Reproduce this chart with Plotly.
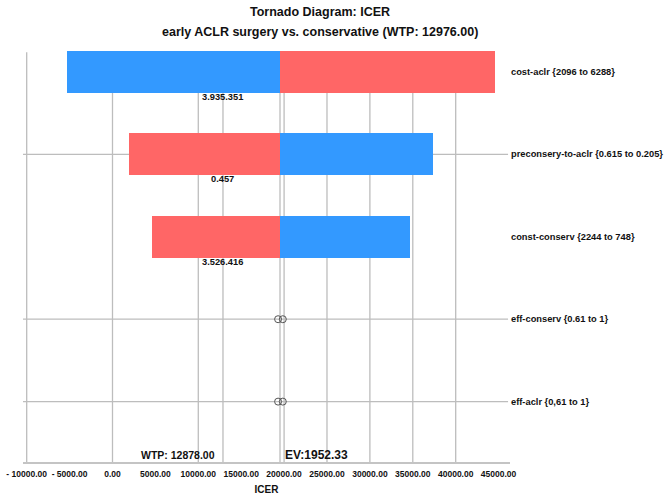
import plotly.graph_objects as go

# ---- data ----
params = [
    "cost-aclr {2096 to 6288}",
    "preconsery-to-aclr {0.615 to 0.205}",
    "const-conserv {2244 to 748}",
    "eff-conserv {0.61 to 1}",
    "eff-aclr {0,61 to 1}",
]
low_end = [-5360, 1900, 4550, 19300, 19300]
high_end = [44560, 37300, 34730, 19850, 19850]
low_side_is_blue = [True, False, False, False, False]
bar_labels = ["3.935.351", "0.457", "3.526.416", "", ""]
ev = 19523.33
wtp = 12878.0
ev_text = "EV:1952.33"
wtp_text = "WTP: 12878.00"
title_1 = "Tornado Diagram: ICER"
title_2 = "early ACLR surgery vs. conservative (WTP: 12976.00)"
tick_vals = [-10000, -5000, 0, 5000, 10000, 15000, 20000, 25000, 30000, 35000, 40000, 45000]
tick_text = ["- 10000.00", "- 5000.00", "0.00", "5000.00", "10000.00", "15000.00",
             "20000.00", "25000.00", "30000.00", "35000.00", "40000.00", "45000.00"]
grid_vals = [-10000, 0, 10000, 20000, 25000, 30000, 35000, 40000]
row_line_idx = [1, 3, 4]
x_title = "ICER"

BLUE = "#3399FF"
RED = "#FF6666"
GRID = "#BDBDBD"
FONT = "Liberation Sans, Arial, sans-serif"

rows = list(range(len(params)))
bar_rows = [i for i in rows if abs(high_end[i] - low_end[i]) > 2000]
dot_rows = [i for i in rows if i not in bar_rows]

fig = go.Figure()

# left part (low_end -> ev)
fig.add_trace(go.Bar(
    y=[i for i in bar_rows],
    x=[low_end[i] - ev for i in bar_rows],
    base=[ev] * len(bar_rows),
    orientation="h", width=0.51,
    marker=dict(color=[BLUE if low_side_is_blue[i] else RED for i in bar_rows], line=dict(width=0)),
    showlegend=False, hoverinfo="skip",
))
# right part (ev -> high_end)
fig.add_trace(go.Bar(
    y=[i for i in bar_rows],
    x=[high_end[i] - ev for i in bar_rows],
    base=[ev] * len(bar_rows),
    orientation="h", width=0.51,
    marker=dict(color=[RED if low_side_is_blue[i] else BLUE for i in bar_rows], line=dict(width=0)),
    showlegend=False, hoverinfo="skip",
))
# tiny ranges shown as hollow circles
fig.add_trace(go.Scatter(
    x=[low_end[i] for i in dot_rows] + [high_end[i] for i in dot_rows],
    y=dot_rows + dot_rows,
    mode="markers",
    marker=dict(symbol="circle-open", size=7, color="#555555", line=dict(width=1)),
    showlegend=False, hoverinfo="skip",
))

shapes = []
for gv in grid_vals + [wtp, ev]:
    shapes.append(dict(type="line", xref="x", yref="paper", x0=gv, x1=gv, y0=0, y1=0.997,
                       line=dict(color=GRID, width=1.3), layer="below"))
for r in row_line_idx:
    shapes.append(dict(type="line", xref="paper", yref="y", x0=0, x1=0.996, y0=r, y1=r,
                       line=dict(color=GRID, width=1.3), layer="below"))
shapes.append(dict(type="line", xref="paper", yref="paper", x0=0, x1=1, y0=0, y1=0,
                   line=dict(color="#C4C4C4", width=2), layer="below"))

annotations = []
for i in rows:
    annotations.append(dict(x=1, xref="paper", y=i, yref="y", text="<b>" + params[i] + "</b>",
                            showarrow=False, xanchor="left", xshift=-1,
                            font=dict(family=FONT, size=9.3, color="#111111")))
    if bar_labels[i]:
        annotations.append(dict(x=wtp, xref="x", y=i, yref="y", text="<b>" + bar_labels[i] + "</b>",
                                showarrow=False, xanchor="center", yshift=-25,
                                font=dict(family=FONT, size=9.3, color="#111111")))
annotations.append(dict(x=wtp, xref="x", y=0, yref="paper", text="<b>" + wtp_text + "</b>",
                        showarrow=False, xanchor="right", yanchor="bottom", xshift=-6, yshift=0,
                        font=dict(family=FONT, size=10.5, color="#111111")))
annotations.append(dict(x=ev, xref="x", y=0, yref="paper", text="<b>" + ev_text + "</b>",
                        showarrow=False, xanchor="left", yanchor="bottom", xshift=3, yshift=-1,
                        font=dict(family=FONT, size=12, color="#111111")))
annotations.append(dict(x=0.61, xref="paper", y=1, yref="paper", yshift=39, text="<b>" + title_1 + "</b>",
                        showarrow=False, xanchor="center", yanchor="middle",
                        font=dict(family=FONT, size=12.5, color="#111111")))
annotations.append(dict(x=0.61, xref="paper", y=1, yref="paper", yshift=19, text="<b>" + title_2 + "</b>",
                        showarrow=False, xanchor="center", yanchor="middle",
                        font=dict(family=FONT, size=12.5, color="#111111")))

fig.update_layout(
    width=669, height=503,
    margin=dict(l=23, r=159, t=51, b=40, autoexpand=False),
    plot_bgcolor="white", paper_bgcolor="white",
    barmode="overlay", bargap=0,
    shapes=shapes, annotations=annotations,
    xaxis=dict(range=[-10430, 46330], tickvals=tick_vals, automargin=False,
               ticktext=["<b>" + t + "</b>" for t in tick_text],
               tickfont=dict(family=FONT, size=8.5, color="#111111"),
               showgrid=False, zeroline=False, showline=False, ticks="outside",
               ticklen=3, tickcolor="rgba(0,0,0,0)",
               title=dict(text="<b>" + x_title + "</b>", font=dict(family=FONT, size=10, color="#111111"),
                          standoff=7)),
    yaxis=dict(range=[4.745, -0.255], showticklabels=False, showgrid=False, automargin=False,
               zeroline=False, showline=False, ticks=""),
)

fig.write_html("out.html")
